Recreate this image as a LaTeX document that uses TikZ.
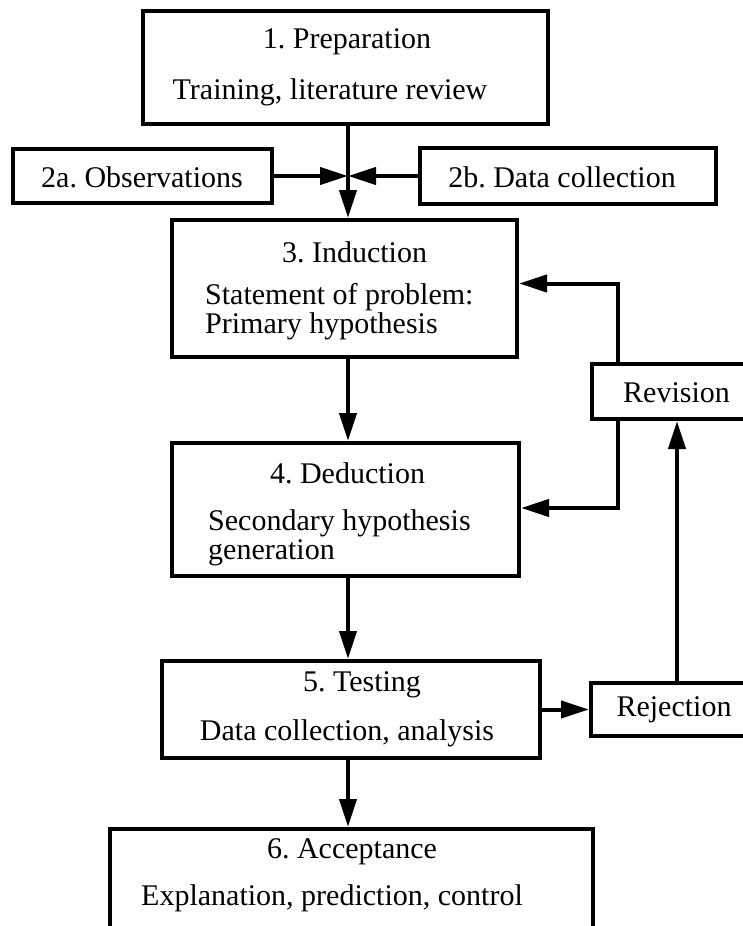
\documentclass[tikz,border=0pt]{standalone}
\usepackage{fontspec}
\setmainfont{Liberation Serif}
\usepackage{tikz}
\usetikzlibrary{arrows.meta}
\frenchspacing

\begin{document}
\begin{tikzpicture}[x=1pt, y=-1pt,
  box/.style={draw, line width=4pt, inner sep=0pt},
  lbl/.style={inner sep=0pt, font=\fontsize{30}{29}\selectfont},
  arr/.style={line width=4pt, -{Triangle[length=28pt, width=17pt]}}]
\useasboundingbox (0,0) rectangle (742,926);
% boxes
\node[box, minimum width=405pt, minimum height=113pt] (prep) at (345.5,67.5) {};
\node[box, minimum width=259pt, minimum height=54pt] (obs) at (142.5,176) {};
\node[box, minimum width=296pt, minimum height=56pt] (datacol) at (568,176) {};
\node[box, minimum width=345pt, minimum height=137pt] (induct) at (344.5,288.5) {};
\node[box, minimum width=347pt, minimum height=133pt] (deduct) at (345.5,509.5) {};
\node[box, minimum width=378pt, minimum height=97pt] (test) at (351,709.5) {};
\node[box, minimum width=483pt, minimum height=103pt] (accept) at (351.5,880.5) {};
\node[box, minimum width=158pt, minimum height=55pt] (revis) at (671,391.5) {};
\node[box, minimum width=159pt, minimum height=53pt] (reject) at (670.5,709.5) {};
% texts
\node[lbl] (prept) at (347,42) {1. Preparation};
\node[lbl] (prepb) at (330,92) {Training, literature review};
\node[lbl] (obst) at (142,177) {2a. Observations};
\node[lbl] (datacolt) at (562,177) {2b. Data collection};
\node[lbl] (inductt) at (354.5,252) {3. Induction};
\node[lbl, anchor=west, align=left] (inductb) at (205,312) {Statement of problem:\\Primary hypothesis};
\node[lbl] (deductt) at (347.5,473) {4. Deduction};
\node[lbl, anchor=west, align=left] (deductb) at (208,538) {Secondary hypothesis\\generation};
\node[lbl] (testt) at (362,685) {5. Testing};
\node[lbl] (testb) at (347,733) {Data collection, analysis};
\node[lbl] (acceptt) at (352,852) {6. Acceptance};
\node[lbl] (acceptb) at (332,898) {Explanation, prediction, control};
\node[lbl] (revist) at (676.5,393) {Revision};
\node[lbl] (rejectt) at (674,710) {Rejection};
% connectors
\coordinate (junc) at (348,176);
\coordinate (uprt) at (677,0);
\draw[arr] (obs.east) -- (junc);
\draw[arr] (datacol.west) -- (junc);
\draw[arr] (prep.south -| junc) -- (induct.north -| junc);
\draw[arr] (induct.south -| junc) -- (deduct.north -| junc);
\draw[arr] (deduct.south -| junc) -- (test.north -| junc);
\draw[arr] (test.south -| junc) -- (accept.north -| junc);
\draw[arr] (test.east) -- (test.east -| reject.west);
\draw[arr] (reject.north -| uprt) -- (revis.south -| uprt);
\draw[arr] ([xshift=28pt]revis.north west) |- ([yshift=5pt]induct.east);
\draw[arr] ([xshift=28pt]revis.south west) |- ([yshift=1.5pt]deduct.east);
\end{tikzpicture}
\end{document}
